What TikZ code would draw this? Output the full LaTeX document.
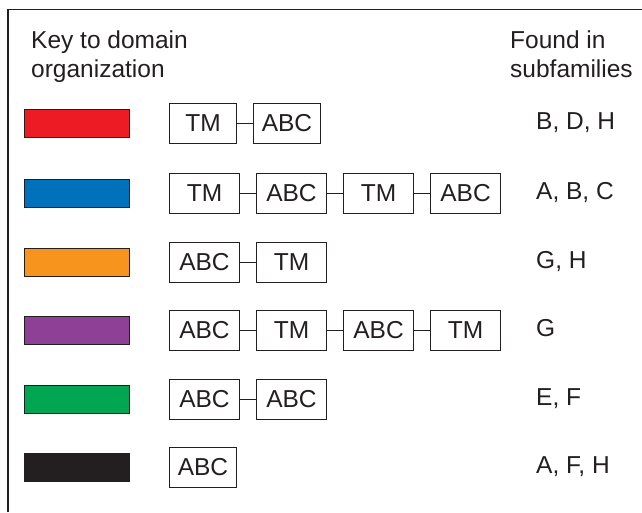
\documentclass[tikz,border=0pt]{standalone}
\usepackage{fontspec}
\setmainfont{Liberation Sans}
\usetikzlibrary{positioning}
\definecolor{ink}{RGB}{35,31,32}
\definecolor{keyred}{RGB}{237,28,36}
\definecolor{keyblue}{RGB}{0,114,188}
\definecolor{keyorange}{RGB}{247,148,29}
\definecolor{keypurple}{RGB}{142,63,150}
\definecolor{keygreen}{RGB}{0,166,81}
\definecolor{keyblack}{RGB}{35,31,32}
\begin{document}
\begin{tikzpicture}[x=1pt,y=-1pt,node distance=16pt,
		every node/.style={font=\fontsize{24.5}{29}\selectfont,text=ink},
		keybar/.style={draw=ink,line width=0.8pt,minimum width=105pt,minimum height=28pt,inner sep=0pt},
		domainbox/.style={draw=ink,line width=1pt,minimum width=70pt,minimum height=40pt,inner sep=0pt},
		link/.style={draw=ink,line width=1pt}]
	\useasboundingbox (0,0) rectangle (642,512);
	\draw [ink,line width=1.2pt] (8,512) -- (8,9.5) -- (642,9.5);
	\node [anchor=base west,align=left,inner sep=0pt] (key) at (31,77) {Key to domain\\organization};
	\node [anchor=base west,align=left,inner sep=0pt] (found) at (510,77) {Found in\\subfamilies};
	% red
	\node [keybar,fill=keyred] (k1) at (76.5,123) {};
	\node [domainbox,minimum width=67pt,anchor=west] (d11) at (169,123) {TM};
	\node [domainbox,minimum width=67pt,right=of d11] (d12) {ABC};
	\node [anchor=base west,inner sep=0pt] (f1) at (536,129) {B, D, H};
	\draw [link] (d11) -- (d12);
	% blue
	\node [keybar,fill=keyblue] (k2) at (76.5,193) {};
	\node [domainbox,anchor=west] (d21) at (169,193) {TM};
	\node [domainbox,right=of d21] (d22) {ABC};
	\node [domainbox,right=of d22] (d23) {TM};
	\node [domainbox,right=of d23] (d24) {ABC};
	\node [anchor=base west,inner sep=0pt] (f2) at (536,199) {A, B, C};
	\draw [link] (d21) -- (d22);
	\draw [link] (d22) -- (d23);
	\draw [link] (d23) -- (d24);
	% orange
	\node [keybar,fill=keyorange] (k3) at (76.5,262) {};
	\node [domainbox,anchor=west] (d31) at (169,262) {ABC};
	\node [domainbox,right=of d31] (d32) {TM};
	\node [anchor=base west,inner sep=0pt] (f3) at (536,268) {G, H};
	\draw [link] (d31) -- (d32);
	% purple
	\node [keybar,fill=keypurple] (k4) at (76.5,330) {};
	\node [domainbox,anchor=west] (d41) at (169,330) {ABC};
	\node [domainbox,right=of d41] (d42) {TM};
	\node [domainbox,right=of d42] (d43) {ABC};
	\node [domainbox,right=of d43] (d44) {TM};
	\node [anchor=base west,inner sep=0pt] (f4) at (536,336) {G};
	\draw [link] (d41) -- (d42);
	\draw [link] (d42) -- (d43);
	\draw [link] (d43) -- (d44);
	% green
	\node [keybar,fill=keygreen] (k5) at (76.5,399) {};
	\node [domainbox,anchor=west] (d51) at (169,399) {ABC};
	\node [domainbox,right=of d51] (d52) {ABC};
	\node [anchor=base west,inner sep=0pt] (f5) at (536,405) {E, F};
	\draw [link] (d51) -- (d52);
	% black
	\node [keybar,fill=keyblack] (k6) at (76.5,467) {};
	\node [domainbox,minimum width=67pt,anchor=west] (d61) at (169,467) {ABC};
	\node [anchor=base west,inner sep=0pt] (f6) at (536,473) {A, F, H};
\end{tikzpicture}
\end{document}
